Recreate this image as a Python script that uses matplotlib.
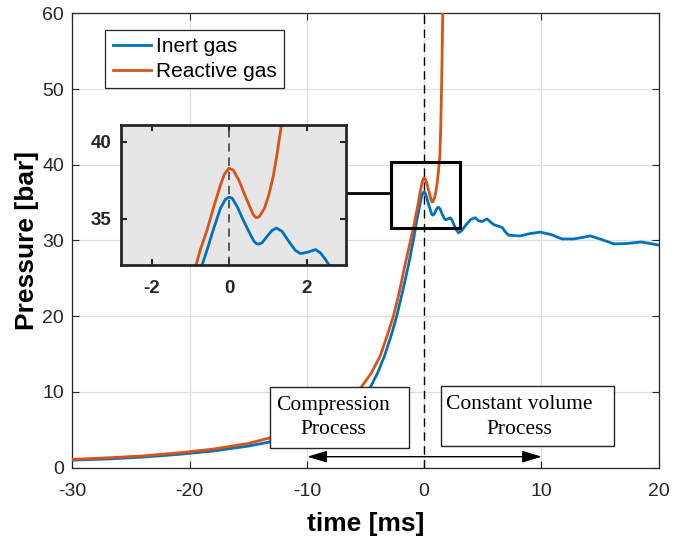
import matplotlib
matplotlib.use("Agg")
import matplotlib.pyplot as plt
from matplotlib.patches import Rectangle

plt.rcParams['font.family'] = ['Liberation Sans', 'DejaVu Sans']
plt.rcParams['axes.unicode_minus'] = False

# ---- data ----
t_inert = [-30, -27, -24, -21, -18, -15, -13, -11, -9, -7, -6, -5, -4.56, -4, -3.39,
           -2.8, -2.34, -1.8, -1.3, -0.85, -0.72, -0.576, -0.404, -0.232, -0.103, -0.017,
           0.069, 0.198, 0.37, 0.542, 0.63, 0.697, 0.77, 0.843, 0.972, 1.1, 1.212, 1.359,
           1.53, 1.70, 1.83, 2.0, 2.22, 2.35, 2.48, 2.56, 2.75, 2.93, 3.2, 3.6,
           4.0, 4.36, 4.65, 4.93, 5.36, 5.7, 5.93, 6.3, 6.64, 6.9, 7.2, 8.2, 9.0, 9.9,
           10.8, 11.77, 12.77, 14.2, 15.0, 16.2, 17.3, 18.5, 19.3, 20]
p_inert = [1.0, 1.15, 1.4, 1.75, 2.2, 2.85, 3.45, 4.3, 5.5, 7.3, 8.6, 9.9, 10.7, 12.4, 14.7,
           17.5, 20.0, 23.5, 27.0, 30.6, 31.9, 33.0, 34.4, 35.69, 36.27, 36.4,
           36.34, 35.8, 34.83, 33.97, 33.55, 33.38, 33.36, 33.45, 33.86, 34.25, 34.4, 34.18,
           33.53, 32.95, 32.74, 32.82, 33.0, 32.78, 32.35, 32.03, 31.4, 31.0, 31.3, 32.1,
           32.8, 33.0, 32.6, 32.5, 32.85, 32.4, 32.1, 31.9, 31.75, 31.2, 30.7, 30.6, 30.9, 31.1,
           30.8, 30.2, 30.2, 30.6, 30.2, 29.55, 29.6, 29.8, 29.6, 29.4]

t_react = [-30, -27, -24, -21, -18, -15, -13, -11, -9, -7.5, -6.3, -5.33, -4.5, -3.76,
           -3.2, -2.62, -2.1, -1.6, -1.14, -0.86, -0.75, -0.576, -0.404, -0.232, -0.129,
           -0.017, 0.095, 0.241, 0.413, 0.559, 0.62, 0.671, 0.73, 0.783, 0.903, 1.015, 1.127,
           1.23, 1.34, 1.42, 1.5, 1.57, 1.62]
p_react = [1.1, 1.3, 1.55, 1.95, 2.45, 3.2, 4.0, 5.0, 6.3, 7.8, 9.3, 10.7, 12.5, 14.7,
           17.2, 20.0, 23.3, 27.0, 30.1, 32.03, 33.0, 34.29, 35.8, 37.2, 37.91,
           38.28, 38.17, 37.52, 36.44, 35.58, 35.25, 35.1, 35.08, 35.19, 35.69, 36.55, 37.73,
           39.24, 41.08, 45.0, 51.0, 58.0, 63.0]

labels = ["Inert gas", "Reactive gas"]
colors = ["#0072BD", "#D95319"]

fig = plt.figure(figsize=(6.73, 5.44), dpi=100)
ax = fig.add_axes([0.1077, 0.1403, 0.8708, 0.8353])

ax.plot(t_inert, p_inert, color=colors[0], lw=2, label=labels[0], zorder=3)
ax.plot(t_react, p_react, color=colors[1], lw=2, label=labels[1], zorder=3)
ax.axvline(0, color='k', lw=1, ls=(0, (6, 4)), zorder=4)

ax.set_xlim(-30, 20)
ax.set_ylim(0, 60)
ax.set_xticks([-30, -20, -10, 0, 10, 20])
ax.set_yticks([0, 10, 20, 30, 40, 50, 60])
ax.grid(True, color='#DFDFDF', lw=0.9)
ax.set_axisbelow(True)
ax.tick_params(direction='in', top=True, right=True, length=5, width=0.8,
               labelsize=14, colors='#262626')
ax.tick_params(axis='x', pad=11)
ax.tick_params(axis='y', pad=6)
for s in ax.spines.values():
    s.set_color('#262626')
    s.set_linewidth(0.9)
ax.set_xlabel("time [ms]", fontsize=19, fontweight='bold', labelpad=9)
ax.set_ylabel("Pressure [bar]", fontsize=19, fontweight='bold', labelpad=2)

leg = ax.legend(loc='upper left', bbox_to_anchor=(0.0561, 0.964), fontsize=15,
                frameon=True, fancybox=False, edgecolor='#262626', framealpha=1,
                handlelength=1.85, handletextpad=0.22, borderpad=0.35, labelspacing=0.3,
                borderaxespad=0)
leg.get_frame().set_linewidth(0.9)

# zoom rectangle and connector
ax.add_patch(Rectangle((-2.82, 31.6), 5.84, 8.8, fill=False, ec='k', lw=2.2, zorder=5))
ax.plot([-6.69, -2.82], [36.25, 36.25], color='k', lw=2, zorder=5)

# text boxes
ax.add_patch(Rectangle((-13.16, 2.64), 11.88, 8.06, fc='white', ec='#262626', lw=1, zorder=6))
ax.add_patch(Rectangle((1.43, 2.87), 14.81, 7.96, fc='white', ec='#262626', lw=1, zorder=6))
ax.text(-7.75, 6.6, "Compression\nProcess", ha='center', va='center', fontsize=15.5,
        family='Liberation Serif', zorder=7, linespacing=1.38)
ax.text(8.15, 6.7, "Constant volume\nProcess", ha='center', va='center', fontsize=15.5,
        family='Liberation Serif', zorder=7, linespacing=1.38)

ax.annotate("", xy=(10.05, 1.45), xytext=(-9.97, 1.45),
            arrowprops=dict(arrowstyle='<|-|>,head_length=1.0,head_width=0.3',
                            color='k', lw=1, shrinkA=0, shrinkB=0, mutation_scale=12),
            zorder=6)

# inset
ins = fig.add_axes([0.1798, 0.5129, 0.3339, 0.2574])
ins.set_facecolor('#E6E6E6')
ins.plot(t_inert, p_inert, color=colors[0], lw=2)
ins.plot(t_react, p_react, color=colors[1], lw=2)
ins.axvline(0, color='#404040', lw=1.2, ls=(0, (5, 3.5)))
ins.set_xlim(-2.8, 3.0)
ins.set_ylim(32.0, 41.1)
ins.set_xticks([-2, 0, 2])
ins.set_yticks([35, 40])
ins.tick_params(direction='in', top=True, right=True, length=4, width=1.5,
                labelsize=13.5, colors='#262626')
ins.tick_params(axis='x', pad=11)
ins.tick_params(axis='y', pad=7)
for lab in ins.get_xticklabels() + ins.get_yticklabels():
    lab.set_fontweight('bold')
for s in ins.spines.values():
    s.set_color('#262626')
    s.set_linewidth(2)

fig.savefig("out.png", dpi=100)
